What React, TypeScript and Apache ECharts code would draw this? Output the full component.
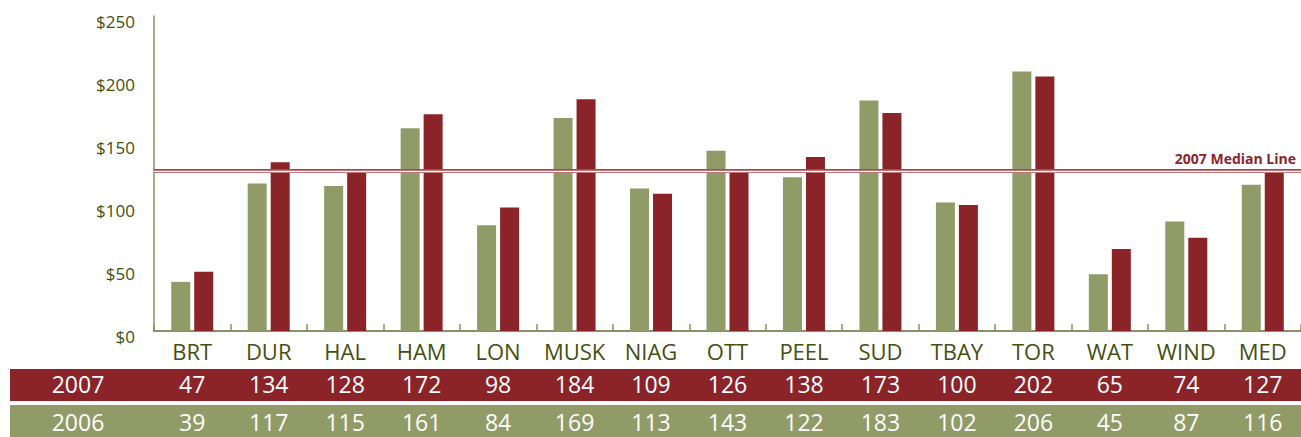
import React, { useEffect, useRef } from "react";
import * as echarts from "echarts";

const categories = ["BRT", "DUR", "HAL", "HAM", "LON", "MUSK", "NIAG", "OTT", "PEEL", "SUD", "TBAY", "TOR", "WAT", "WIND", "MED"];
const values2007 = [47, 134, 128, 172, 98, 184, 109, 126, 138, 173, 100, 202, 65, 74, 127];
const values2006 = [39, 117, 115, 161, 84, 169, 113, 143, 122, 183, 102, 206, 45, 87, 116];
const seriesNames = ["2007", "2006"];
const yTicks = [0, 50, 100, 150, 200, 250];
const median2007 = values2007[values2007.length - 1];
const medianLabel = "2007 Median Line";

const RED = "#8B2429";
const GREEN = "#919B67";
const TEXT = "#445010";
const AXIS = "#8a9163";
const FONT = "'Open Sans', 'Noto Sans', sans-serif";

export default function App() {
  const ref = useRef<HTMLDivElement>(null);
  useEffect(() => {
    if (!ref.current) return;
    const chart = echarts.init(ref.current, undefined, { renderer: "svg" });
    const option: any = {
      animation: false,
      backgroundColor: "#ffffff",
      textStyle: { fontFamily: FONT },
      grid: { left: 154, top: 16, width: 1150, height: 315, containLabel: false },
      xAxis: [
        {
          type: "category",
          data: categories,
          axisLine: { show: true, lineStyle: { color: AXIS, width: 2 } },
          axisTick: { show: true, inside: true, length: 7, lineStyle: { color: AXIS, width: 1.5 } },
          axisLabel: { interval: 0, color: TEXT, fontSize: 22, fontFamily: FONT, margin: 20, verticalAlign: "middle" },
        },
        {
          type: "category",
          position: "bottom",
          data: values2007.map(String),
          axisLine: { show: false },
          axisTick: { show: false },
          axisLabel: { interval: 0, color: "#ffffff", fontSize: 23, fontFamily: FONT, margin: 53, verticalAlign: "middle" },
        },
        {
          type: "category",
          position: "bottom",
          data: values2006.map(String),
          axisLine: { show: false },
          axisTick: { show: false },
          axisLabel: { interval: 0, color: "#ffffff", fontSize: 23, fontFamily: FONT, margin: 91, verticalAlign: "middle" },
        },
      ],
      yAxis: {
        type: "value",
        min: yTicks[0],
        max: yTicks[yTicks.length - 1],
        interval: 50,
        splitLine: { show: false },
        axisTick: { show: false },
        axisLine: { show: true, lineStyle: { color: AXIS, width: 1.5 } },
        axisLabel: {
          color: TEXT,
          fontSize: 17,
          fontFamily: FONT,
          margin: 19,
          verticalAlign: "top",
          lineHeight: 11,
          formatter: (v: number) => "$" + v,
        },
      },
      series: [
        {
          name: seriesNames[1],
          type: "bar",
          data: values2006,
          barWidth: 19,
          barGap: "21%",
          itemStyle: { color: GREEN },
        },
        {
          name: seriesNames[0],
          type: "bar",
          data: values2007,
          barWidth: 19,
          barGap: "21%",
          itemStyle: { color: RED },
          markLine: {
            silent: true,
            symbol: "none",
            animation: false,
            data: [
              {
                yAxis: median2007,
                lineStyle: { color: "#a8484d", width: 4, type: "solid" },
                label: {
                  show: true,
                  position: "insideEndTop",
                  formatter: medianLabel,
                  color: RED,
                  fontWeight: "bold",
                  fontSize: 14,
                  fontFamily: FONT,
                  distance: [5, 5],
                },
              },
              {
                yAxis: median2007,
                lineStyle: { color: "#ffffff", width: 1.4, type: "solid" },
                label: { show: false },
              },
            ],
          },
        },
      ],
      graphic: [
        { type: "rect", z: -10, shape: { x: 10, y: 369, width: 1291, height: 32 }, style: { fill: RED } },
        { type: "rect", z: -10, shape: { x: 10, y: 405, width: 1291, height: 32 }, style: { fill: GREEN } },
        {
          type: "text",
          z: 10,
          x: 78,
          y: 384,
          style: { text: seriesNames[0], fill: "#ffffff", font: `23px ${FONT}`, textAlign: "center", textVerticalAlign: "middle" },
        },
        {
          type: "text",
          z: 10,
          x: 78,
          y: 422,
          style: { text: seriesNames[1], fill: "#ffffff", font: `23px ${FONT}`, textAlign: "center", textVerticalAlign: "middle" },
        },
      ],
    };
    chart.setOption(option);
    return () => chart.dispose();
  }, []);
  return (
    <div
      ref={ref}
      style={{ position: "fixed", left: 0, top: 0, width: 1301, height: 437 }}
    />
  );
}
